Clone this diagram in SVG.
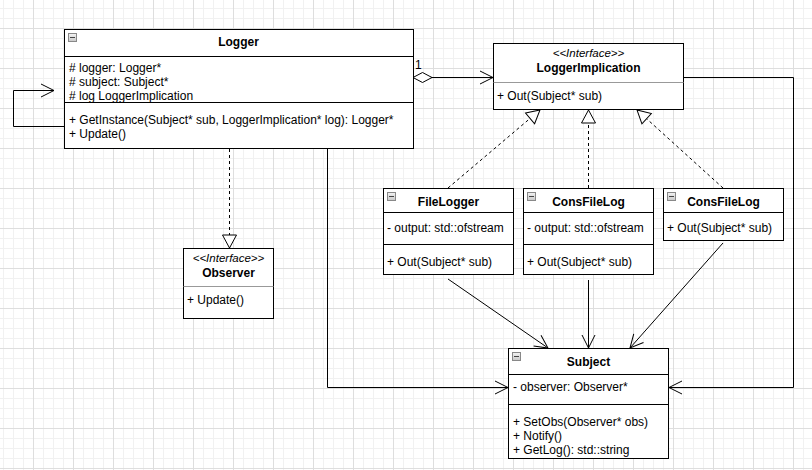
<svg xmlns="http://www.w3.org/2000/svg" width="812" height="470" viewBox="0 0 812 470">
<style>
  text { font-family: "Liberation Sans", Arial, sans-serif; font-size: 12px; fill: #000; }
  .title { font-weight: bold; font-size: 12px; text-anchor: middle; }
  .stereo { font-style: italic; font-size: 11.5px; text-anchor: middle; }
  .box { fill: #fff; stroke: #000; stroke-width: 1; }
  .div { stroke: #000; stroke-width: 1; }
  .div2 { stroke: #999; stroke-width: 1; }
  .edge { fill: none; stroke: #000; stroke-width: 1; }
  .dash { stroke-dasharray: 3 3; }
  .ico { fill: url(#icog); stroke: #888; stroke-width: 1; }
  .icol { stroke: #444; stroke-width: 1; }
</style>
<defs>
  <pattern id="gridMinor" x="3" y="8" width="10" height="10" patternUnits="userSpaceOnUse">
    <path d="M0.5 0 V10 M0 0.5 H10" fill="none" stroke="#f1f1f1" stroke-width="1"/>
  </pattern>
  <pattern id="gridMajor" x="33" y="28" width="40" height="40" patternUnits="userSpaceOnUse">
    <path d="M0.5 0 V40 M0 0.5 H40" fill="none" stroke="#dedede" stroke-width="1"/>
  </pattern>
  <linearGradient id="icog" x1="0" y1="0" x2="0" y2="1">
    <stop offset="0" stop-color="#f4f4f4"/>
    <stop offset="1" stop-color="#c8c8c8"/>
  </linearGradient>
  <marker id="open" markerUnits="userSpaceOnUse" markerWidth="16" markerHeight="16" refX="13" refY="6.5" orient="auto" overflow="visible">
    <path d="M0,0 L13,6.5 L0,13" fill="none" stroke="#000" stroke-width="1"/>
  </marker>
  <marker id="tri" markerUnits="userSpaceOnUse" markerWidth="16" markerHeight="16" refX="13" refY="7" orient="auto" overflow="visible">
    <path d="M0,0 L13,7 L0,14 Z" fill="#fff" stroke="#000" stroke-width="1"/>
  </marker>
  <marker id="diamond" markerUnits="userSpaceOnUse" markerWidth="22" markerHeight="12" refX="0" refY="5" orient="auto" overflow="visible">
    <path d="M0,5 L9.5,0 L19,5 L9.5,10 Z" fill="#fff" stroke="#000" stroke-width="1"/>
  </marker>
</defs>

<rect width="812" height="470" fill="#fff"/>
<rect width="812" height="470" fill="url(#gridMinor)"/>
<rect width="812" height="470" fill="url(#gridMajor)"/>

<g id="connectors">
  <path class="edge" d="M64.5,126.5 H13.5 V90.5 H54" marker-end="url(#open)"/>
  <path class="edge" d="M413,77.5 H493" marker-start="url(#diamond)" marker-end="url(#open)"/>
  <text x="415" y="69">1</text>
  <path class="edge" d="M683,77.5 H793.5 V387.5 H669" marker-end="url(#open)"/>
  <path class="edge" d="M327.5,148 V387.5 H508" marker-end="url(#open)"/>
  <path class="edge dash" d="M229.5,149 V248" marker-end="url(#tri)"/>
  <path class="edge dash" d="M448,188 L540,110" marker-end="url(#tri)"/>
  <path class="edge dash" d="M588.5,188 V110" marker-end="url(#tri)"/>
  <path class="edge dash" d="M723,188 L637,110" marker-end="url(#tri)"/>
  <path class="edge" d="M448,279 L548,348" marker-end="url(#open)"/>
  <path class="edge" d="M588.5,280 V348" marker-end="url(#open)"/>
  <path class="edge" d="M723,243 L630,348" marker-end="url(#open)"/>
</g>

<g id="Logger">
  <rect class="box" x="64.5" y="29.5" width="349" height="119"/>
  <line class="div" x1="64.5" y1="56.5" x2="413.5" y2="56.5"/>
  <line class="div" x1="64.5" y1="102.5" x2="413.5" y2="102.5"/>
  <rect class="ico" x="68.5" y="33.5" width="8" height="8"/>
  <line class="icol" x1="70" y1="37.5" x2="75" y2="37.5"/>
  <text class="title" x="238.5" y="46">Logger</text>
  <text x="69" y="72"># logger: Logger*</text>
  <text x="69" y="86"># subject: Subject*</text>
  <text x="69" y="100"># log LoggerImplication</text>
  <text x="69" y="124">+ GetInstance(Subject* sub, LoggerImplication* log): Logger*</text>
  <text x="69" y="138">+ Update()</text>
</g>

<g id="LoggerImplication">
  <rect class="box" x="493.5" y="43.5" width="190" height="66"/>
  <line class="div2" x1="493.5" y1="82.5" x2="683.5" y2="82.5"/>
  <text class="stereo" x="588.5" y="57">&lt;&lt;Interface&gt;&gt;</text>
  <text class="title" x="588.5" y="72">LoggerImplication</text>
  <text x="497" y="100">+ Out(Subject* sub)</text>
</g>

<g id="Observer">
  <rect class="box" x="183.5" y="248.5" width="90" height="70"/>
  <line class="div2" x1="183.5" y1="286.5" x2="273.5" y2="286.5"/>
  <text class="stereo" x="228.5" y="262">&lt;&lt;Interface&gt;&gt;</text>
  <text class="title" x="228.5" y="277">Observer</text>
  <text x="187" y="304">+ Update()</text>
</g>

<g id="FileLogger">
  <rect class="box" x="383.5" y="188.5" width="130" height="86"/>
  <line class="div" x1="383.5" y1="212.5" x2="513.5" y2="212.5"/>
  <line class="div" x1="383.5" y1="244.5" x2="513.5" y2="244.5"/>
  <rect class="ico" x="387.5" y="192.5" width="8" height="8"/>
  <line class="icol" x1="389" y1="196.5" x2="394" y2="196.5"/>
  <text class="title" x="448.5" y="206">FileLogger</text>
  <text x="387" y="232">- output: std::ofstream</text>
  <text x="387" y="266">+ Out(Subject* sub)</text>
</g>

<g id="ConsFileLog1">
  <rect class="box" x="523.5" y="188.5" width="130" height="86"/>
  <line class="div" x1="523.5" y1="212.5" x2="653.5" y2="212.5"/>
  <line class="div" x1="523.5" y1="244.5" x2="653.5" y2="244.5"/>
  <rect class="ico" x="527.5" y="192.5" width="8" height="8"/>
  <line class="icol" x1="529" y1="196.5" x2="534" y2="196.5"/>
  <text class="title" x="588.5" y="206">ConsFileLog</text>
  <text x="527" y="232">- output: std::ofstream</text>
  <text x="527" y="266">+ Out(Subject* sub)</text>
</g>

<g id="ConsFileLog2">
  <rect class="box" x="663.5" y="188.5" width="120" height="52"/>
  <line class="div" x1="663.5" y1="212.5" x2="783.5" y2="212.5"/>
  <rect class="ico" x="667.5" y="192.5" width="8" height="8"/>
  <line class="icol" x1="669" y1="196.5" x2="674" y2="196.5"/>
  <text class="title" x="723.5" y="206">ConsFileLog</text>
  <text x="667" y="232">+ Out(Subject* sub)</text>
</g>

<g id="Subject">
  <rect class="box" x="508.5" y="348.5" width="160" height="110"/>
  <line class="div" x1="508.5" y1="374.5" x2="668.5" y2="374.5"/>
  <line class="div" x1="508.5" y1="404.5" x2="668.5" y2="404.5"/>
  <rect class="ico" x="512.5" y="352.5" width="8" height="8"/>
  <line class="icol" x1="514" y1="356.5" x2="519" y2="356.5"/>
  <text class="title" x="588.5" y="366">Subject</text>
  <text x="513" y="391">- observer: Observer*</text>
  <text x="513" y="426">+ SetObs(Observer* obs)</text>
  <text x="513" y="440">+ Notify()</text>
  <text x="513" y="454">+ GetLog(): std::string</text>
</g>
</svg>
